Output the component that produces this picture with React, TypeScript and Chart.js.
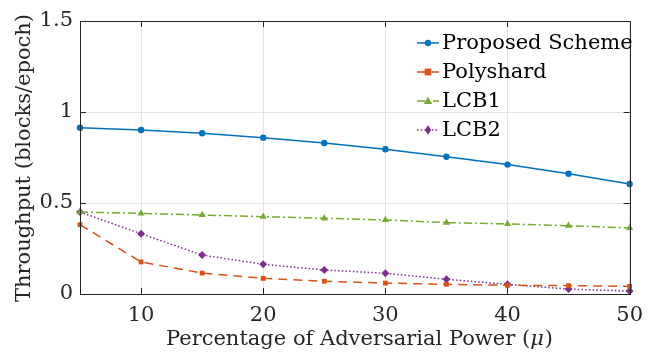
import React, { useEffect, useRef } from "react";
import { Chart, registerables } from "chart.js";
Chart.register(...registerables);

const xValues = [5, 10, 15, 20, 25, 30, 35, 40, 45, 50];
const proposed = [0.914, 0.901, 0.883, 0.859, 0.83, 0.795, 0.754, 0.711, 0.661, 0.604];
const polyshard = [0.381, 0.176, 0.115, 0.086, 0.07, 0.06, 0.053, 0.048, 0.046, 0.042];
const lcb1 = [0.45, 0.443, 0.434, 0.425, 0.416, 0.407, 0.392, 0.385, 0.375, 0.363];
const lcb2 = [0.45, 0.331, 0.214, 0.163, 0.132, 0.114, 0.081, 0.053, 0.027, 0.016];
const xTicks = [10, 20, 30, 40, 50];
const yTicks = [0, 0.5, 1, 1.5];
const seriesNames = ["Proposed Scheme", "Polyshard", "LCB1", "LCB2"];

const FONT = "'DejaVu Serif', serif";
const FS = 21;
const AXIS = "#262626";

const styles = [
  { color: "#0072BD", dash: [] as number[], point: "circle", r: 3.2 },
  { color: "#D95319", dash: [9, 6], point: "rect", r: 3.4 },
  { color: "#77AC30", dash: [8, 3, 2, 3], point: "triangle", r: 4.2 },
  { color: "#7E2F8E", dash: [1.5, 2.2], point: "rectRot", r: 4 },
];

function drawMarker(ctx: CanvasRenderingContext2D, kind: string, x: number, y: number, r: number, color: string) {
  ctx.save();
  ctx.setLineDash([]);
  ctx.fillStyle = color;
  ctx.beginPath();
  if (kind === "circle") ctx.arc(x, y, r, 0, Math.PI * 2);
  else if (kind === "rect") ctx.rect(x - r, y - r, 2 * r, 2 * r);
  else if (kind === "triangle") {
    ctx.moveTo(x, y - r);
    ctx.lineTo(x + r, y + r * 0.7);
    ctx.lineTo(x - r, y + r * 0.7);
    ctx.closePath();
  } else {
    ctx.moveTo(x, y - r * 1.2);
    ctx.lineTo(x + r * 0.8, y);
    ctx.lineTo(x, y + r * 1.2);
    ctx.lineTo(x - r * 0.8, y);
    ctx.closePath();
  }
  ctx.fill();
  ctx.restore();
}

const decorPlugin = {
  id: "decor",
  afterDraw(chart: any) {
    const ctx: CanvasRenderingContext2D = chart.ctx;
    const a = chart.chartArea;
    const sx = chart.scales.x;
    const sy = chart.scales.y;
    ctx.save();
    ctx.strokeStyle = AXIS;
    ctx.lineWidth = 1;
    ctx.setLineDash([]);
    ctx.strokeRect(Math.round(a.left) + 0.5, Math.round(a.top) + 0.5, Math.round(a.right - a.left), Math.round(a.bottom - a.top));
    const tl = 6;
    ctx.beginPath();
    for (const v of xTicks) {
      const x = Math.round(sx.getPixelForValue(v)) + 0.5;
      ctx.moveTo(x, a.bottom);
      ctx.lineTo(x, a.bottom - tl);
      ctx.moveTo(x, a.top);
      ctx.lineTo(x, a.top + tl);
    }
    for (const v of yTicks) {
      const y = Math.round(sy.getPixelForValue(v)) + 0.5;
      ctx.moveTo(a.left, y);
      ctx.lineTo(a.left + tl, y);
      ctx.moveTo(a.right, y);
      ctx.lineTo(a.right - tl, y);
    }
    ctx.stroke();

    // legend
    ctx.font = `${FS}px ${FONT}`;
    ctx.textBaseline = "middle";
    ctx.textAlign = "left";
    seriesNames.forEach((name, i) => {
      const st = styles[i];
      const y = 43 + i * 29;
      ctx.strokeStyle = st.color;
      ctx.lineWidth = 1.5;
      ctx.setLineDash(st.dash);
      ctx.beginPath();
      ctx.moveTo(417, y);
      ctx.lineTo(439, y);
      ctx.stroke();
      drawMarker(ctx, st.point, 428, y, st.r, st.color);
      ctx.fillStyle = "#000";
      ctx.fillText(name, 442, y + 1);
    });

    // x title
    ctx.fillStyle = AXIS;
    const p1 = "Percentage of Adversarial Power (";
    const p2 = "\u03bc";
    const p3 = ")";
    ctx.font = `${FS}px ${FONT}`;
    const w1 = ctx.measureText(p1).width;
    ctx.font = `italic ${FS}px ${FONT}`;
    const w2 = ctx.measureText(p2).width;
    ctx.font = `${FS}px ${FONT}`;
    const w3 = ctx.measureText(p3).width;
    const x0 = 359 - (w1 + w2 + w3) / 2;
    ctx.fillText(p1, x0, 340);
    ctx.font = `italic ${FS}px ${FONT}`;
    ctx.fillText(p2, x0 + w1, 340);
    ctx.font = `${FS}px ${FONT}`;
    ctx.fillText(p3, x0 + w1 + w2 + 1, 340);

    // y title
    ctx.save();
    ctx.translate(25, 158);
    ctx.rotate(-Math.PI / 2);
    ctx.textAlign = "center";
    ctx.fillText("Throughput (blocks/epoch)", 0, 0);
    ctx.restore();
    ctx.restore();
  },
};

export default function App() {
  const ref = useRef<HTMLCanvasElement>(null);
  useEffect(() => {
    const all = [proposed, polyshard, lcb1, lcb2];
    const chart = new Chart(ref.current!, {
      type: "line",
      data: {
        datasets: all.map((vals, i) => ({
          label: seriesNames[i],
          data: xValues.map((x, j) => ({ x, y: vals[j] })),
          borderColor: styles[i].color,
          backgroundColor: styles[i].color,
          borderWidth: 1.5,
          borderDash: styles[i].dash,
          pointStyle: styles[i].point as any,
          pointRadius: styles[i].r,
          pointBorderWidth: 0,
          tension: 0,
          clip: false as any,
        })),
      },
      options: {
        animation: false,
        responsive: false,
        devicePixelRatio: 1,
        layout: { padding: { top: 21, right: 13, left: 0, bottom: 0 } },
        plugins: { legend: { display: false }, tooltip: { enabled: false } },
        scales: {
          x: {
            type: "linear",
            min: 5,
            max: 50,
            afterBuildTicks: (s: any) => {
              s.ticks = xTicks.map((v) => ({ value: v }));
            },
            afterFit: (s: any) => {
              s.height = 62;
            },
            grid: { color: "#e3e3e3", drawTicks: false },
            border: { display: false },
            ticks: {
              color: AXIS,
              padding: 9,
              font: { family: FONT, size: FS },
              callback: (v: any) => String(v),
            },
          },
          y: {
            type: "linear",
            min: 0,
            max: 1.5,
            afterBuildTicks: (s: any) => {
              s.ticks = yTicks.map((v) => ({ value: v }));
            },
            afterFit: (s: any) => {
              s.width = 80;
            },
            grid: { color: "#e3e3e3", drawTicks: false },
            border: { display: false },
            ticks: {
              color: AXIS,
              padding: 7,
              font: { family: FONT, size: FS },
              callback: (v: any) => String(v),
            },
          },
        },
      },
      plugins: [decorPlugin],
    });
    return () => chart.destroy();
  }, []);
  return (
    <div style={{ position: "absolute", left: 0, top: 0, width: 652, height: 356, background: "#fff" }}>
      <canvas ref={ref} width={652} height={356} />
    </div>
  );
}
